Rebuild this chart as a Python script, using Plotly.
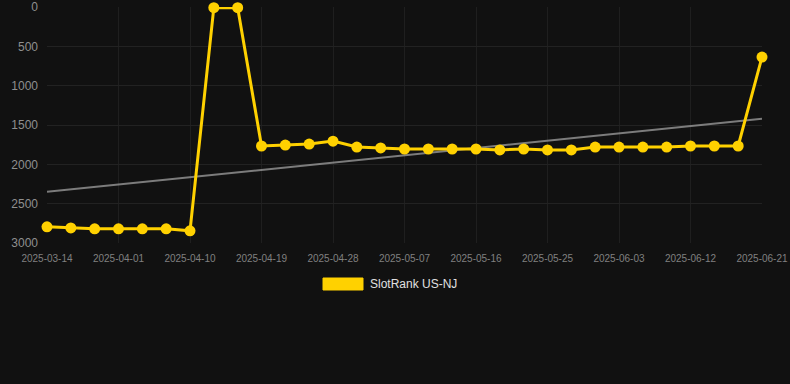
import plotly.graph_objects as go

dates = ["2025-03-14", "2025-03-20", "2025-03-26", "2025-04-01", "2025-04-04", "2025-04-07",
         "2025-04-10", "2025-04-13", "2025-04-16", "2025-04-19", "2025-04-22", "2025-04-25",
         "2025-04-28", "2025-05-01", "2025-05-04", "2025-05-07", "2025-05-10", "2025-05-13",
         "2025-05-16", "2025-05-19", "2025-05-22", "2025-05-25", "2025-05-28", "2025-05-31",
         "2025-06-03", "2025-06-06", "2025-06-09", "2025-06-12", "2025-06-15", "2025-06-18",
         "2025-06-21"]
ranks = [2795, 2808, 2820, 2820, 2820, 2820, 2845, 8, 8, 1767, 1755, 1742, 1705, 1780, 1792,
         1805, 1805, 1805, 1805, 1817, 1805, 1817, 1817, 1780, 1780, 1780, 1780, 1767, 1767,
         1767, 636]
trend_x = [dates[0], dates[-1]]
trend_y = [2350, 1422]
tick_labels = dates[::3]
y_ticks = [0, 500, 1000, 1500, 2000, 2500, 3000]
series_name = "SlotRank US-NJ"

BG = "#111111"
YELLOW = "#FFD100"

fig = go.Figure()
fig.add_trace(go.Scatter(x=trend_x, y=trend_y, mode="lines",
                         line=dict(color="rgba(160,160,160,0.75)", width=2),
                         showlegend=False, hoverinfo="skip", cliponaxis=False))
fig.add_trace(go.Scatter(x=dates, y=ranks, mode="lines+markers", name=series_name,
                         line=dict(color=YELLOW, width=3),
                         marker=dict(color=YELLOW, size=11),
                         showlegend=False, cliponaxis=False))

fig.update_layout(
    width=790, height=384,
    paper_bgcolor=BG, plot_bgcolor=BG,
    margin=dict(l=47, r=28, t=7, b=141),
    font=dict(family="Liberation Sans, Arial, sans-serif", color="#8a8a8a"),
    xaxis=dict(type="category", categoryorder="array", categoryarray=dates,
               range=[0, len(dates) - 1], tickmode="array", tickvals=tick_labels,
               ticktext=tick_labels, tickfont=dict(size=10, color="#808080"),
               showgrid=True, gridcolor="#1f1f1f", gridwidth=1, automargin=False,
               zeroline=False, showline=False, ticks="", ticklabelstandoff=8),
    yaxis=dict(range=[3000, 0], tickmode="array", tickvals=y_ticks,
               tickfont=dict(size=12, color="#8f8f8f"), automargin=False,
               showgrid=True, gridcolor="#222222", gridwidth=1,
               zeroline=False, showline=False, ticks="", ticklabelstandoff=8),
    showlegend=False,
)

# legend swatch + label
fig.add_shape(type="rect", xref="paper", yref="paper",
              x0=(323 - 47) / 715, x1=(363 - 47) / 715,
              y0=(243 - 290) / 236, y1=(243 - 278) / 236,
              fillcolor=YELLOW, line=dict(color=YELLOW, width=1))
fig.add_annotation(xref="paper", yref="paper", x=(368 - 47) / 715, y=(243 - 284) / 236,
                   text=series_name, showarrow=False, xanchor="left", yanchor="middle",
                   font=dict(size=12, color="#e0e0e0"))

fig.write_html("out.html", config={"displayModeBar": False},
               post_script="document.body.style.margin='0';"
                           "document.body.style.background='#111111';")
